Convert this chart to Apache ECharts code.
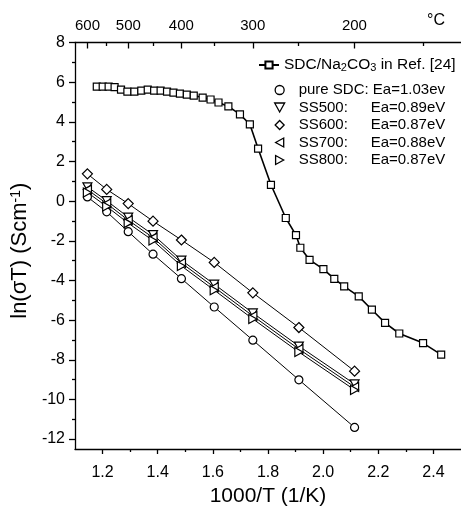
<!DOCTYPE html>
<html><head><meta charset="utf-8">
<script src="https://cdn.jsdelivr.net/npm/echarts@6/dist/echarts.min.js"></script>
<style>html,body{margin:0;padding:0;background:#fff}#c{width:461px;height:512px}</style>
</head><body><div id="c"></div>
<script>
// ---- data ----
const refX = [1.179,1.2005,1.222,1.2436,1.2669,1.290,1.3154,1.3405,1.3638,1.3871,1.4105,1.4338,1.4571,1.4805,1.5056,1.5307,1.563,1.5917,1.6205,1.6563,1.6983,1.7342,1.764,1.8107,1.8645,1.9015,1.9173,1.9507,2.0009,2.0404,2.0763,2.1291,2.1768,2.2246,2.2762,2.3624,2.4281];
const refY = [5.775,5.775,5.775,5.75,5.625,5.525,5.525,5.575,5.625,5.575,5.575,5.525,5.475,5.425,5.375,5.325,5.225,5.125,4.975,4.775,4.375,3.875,2.65,0.825,-0.85,-1.71,-2.35,-2.96,-3.425,-3.925,-4.3,-4.8,-5.475,-6.14,-6.675,-7.16,-7.74];
const xLin = [1.145,1.215,1.293,1.383,1.486,1.605,1.745,1.912,2.114];
const pureSDC = [0.21,-0.54,-1.54,-2.675,-3.91,-5.34,-7.01,-9.01,-11.41];
const ss500 = [0.72,0.02,-0.81,-1.69,-2.98,-4.19,-5.64,-7.31,-9.22];
const ss600 = [1.375,0.59,-0.125,-1.01,-1.96,-3.09,-4.625,-6.375,-8.575];
const ss700 = [0.58,-0.12,-0.96,-1.84,-3.12,-4.34,-5.79,-7.46,-9.37];
const ss800 = [0.44,-0.27,-1.11,-1.99,-3.27,-4.49,-5.94,-7.61,-9.52];
const xTicks = [1.2,1.4,1.6,1.8,2.0,2.2,2.4];
const xMinorTicks = [1.3,1.5,1.7,1.9,2.1,2.3];
const yTicks = [-12,-10,-8,-6,-4,-2,0,2,4,6,8];
const yMinorTicks = [-11,-9,-7,-5,-3,-1,1,3,5,7];
const tempMajor = [600,500,400,300,200];
const tempMinor = [550,450,350,250,150];
const seriesNames = ['SDC/Na2CO3 in Ref. [24]','pure SDC','SS500','SS600','SS700','SS800'];
const eaText = {'pure SDC':'Ea=1.03ev','SS500':'Ea=0.89eV','SS600':'Ea=0.87eV','SS700':'Ea=0.88eV','SS800':'Ea=0.87eV'};

// ---- helpers ----
const FONT = 'Liberation Sans, Arial, sans-serif';
const invT = t => 1000 / (t + 273.15);
const zip = (xs, ys) => xs.map((x, i) => [x, ys[i]]);
const X0 = 1.1, X1 = 2.5, Y0 = -12.5, Y1 = 8;

const symDown = 'path://M0,0L10,0L5,9Z';
const symLeft = 'path://M0,5L9,0L9,10Z';
const symRight = 'path://M9,5L0,0L0,10Z';
const symDiamond = 'path://M5,0L10,5L5,10L0,5Z';

function lineSeries(name, data, symbol, size, lw) {
  return {
    name, type: 'line', data, symbol, symbolSize: size, symbolKeepAspect: true,
    xAxisIndex: 0, yAxisIndex: 0,
    lineStyle: {color: '#000', width: lw},
    itemStyle: {color: '#fff', borderColor: '#000', borderWidth: 1.2},
    emphasis: {disabled: true}, silent: true, clip: false
  };
}

const baseAxis = {
  type: 'value', splitLine: {show: false},
  axisLine: {show: false, onZero: false}, axisLabel: {show: false},
  axisTick: {show: false}
};
const tickLine = {color: '#000', width: 1.3};

const option = {
  animation: false,
  textStyle: {fontFamily: FONT, color: '#000'},
  grid: {left: 75, top: 42.5, width: 390, height: 409, containLabel: false},
  xAxis: [
    Object.assign({}, baseAxis, {
      position: 'bottom', min: X0, max: X1,
      axisLine: {show: true, onZero: false, lineStyle: tickLine},
      axisTick: {show: true, inside: false, length: 5, customValues: xTicks, lineStyle: tickLine},
      axisLabel: {show: true, customValues: xTicks, margin: 16, fontSize: 16, color: '#000', fontFamily: FONT,
        formatter: v => v.toFixed(1)},
      name: '1000/T (1/K)', nameLocation: 'middle', nameGap: 37,
      nameTextStyle: {fontSize: 21, color: '#000', fontFamily: FONT}
    }),
    Object.assign({}, baseAxis, {
      position: 'bottom', min: X0, max: X1,
      axisLine: {show: false, onZero: false},
      axisTick: {show: true, inside: false, length: 3, customValues: xMinorTicks, lineStyle: tickLine}
    }),
    Object.assign({}, baseAxis, {
      position: 'top', min: X0, max: X1,
      axisLine: {show: true, onZero: false, lineStyle: tickLine},
      axisTick: {show: true, inside: true, length: 6, customValues: tempMajor.map(invT), lineStyle: tickLine},
      axisLabel: {show: true, customValues: tempMajor.map(invT), margin: 9, fontSize: 15, color: '#000', fontFamily: FONT,
        formatter: v => String(Math.round(1000 / v - 273.15))},
      name: '°C', nameLocation: 'end', nameGap: -34,
      nameTextStyle: {fontSize: 16, color: '#000', fontFamily: FONT, align: 'left', verticalAlign: 'bottom', padding: [0, 0, 14, 0]}
    }),
    Object.assign({}, baseAxis, {
      position: 'top', min: X0, max: X1,
      axisLine: {show: false, onZero: false},
      axisTick: {show: true, inside: true, length: 3.5, customValues: tempMinor.map(invT), lineStyle: tickLine}
    })
  ],
  yAxis: [
    Object.assign({}, baseAxis, {
      position: 'left', min: Y0, max: Y1,
      axisLine: {show: true, onZero: false, lineStyle: tickLine},
      axisTick: {show: true, inside: false, length: 6, customValues: yTicks, lineStyle: tickLine},
      axisLabel: {show: true, customValues: yTicks, margin: 10, fontSize: 16, color: '#000', fontFamily: FONT},
      name: 'ln(σT) (Scm{sup|-1})', nameLocation: 'middle', nameGap: 31,
      nameTextStyle: {fontSize: 22, color: '#000', fontFamily: FONT, padding: [0, 10, 0, 0],
        rich: {sup: {fontSize: 14, lineHeight: 12, verticalAlign: 'top', fontFamily: FONT, color: '#000'}}}
    }),
    Object.assign({}, baseAxis, {
      position: 'left', min: Y0, max: Y1,
      axisLine: {show: false, onZero: false},
      axisTick: {show: true, inside: false, length: 3, customValues: yMinorTicks, lineStyle: tickLine}
    })
  ],
  legend: [
    {
      data: [seriesNames[0]], left: 258, top: 57, padding: 0, itemWidth: 20, itemHeight: 9,
      selectedMode: false,
      formatter: () => 'SDC/Na{s|2}CO{s|3} in Ref. [24]',
      textStyle: {fontSize: 15.5, lineHeight: 16, color: '#000', fontFamily: FONT,
        rich: {s: {fontSize: 11, lineHeight: 8, verticalAlign: 'bottom', color: '#000', fontFamily: FONT}}}
    },
    {
      data: [
        {name: 'pure SDC', icon: 'circle'},
        {name: 'SS500', icon: symDown},
        {name: 'SS600', icon: symDiamond},
        {name: 'SS700', icon: symLeft},
        {name: 'SS800', icon: symRight}
      ],
      orient: 'vertical', left: 274, top: 82, padding: 0, itemWidth: 28, itemHeight: 9, itemGap: 1.5,
      selectedMode: false, symbolKeepAspect: true,
      itemStyle: {color: '#fff', borderColor: '#000', borderWidth: 1.3},
      formatter: n => n === 'pure SDC' ? 'pure SDC: ' + eaText[n] : '{a|' + n + ':}' + eaText[n],
      textStyle: {fontSize: 15, lineHeight: 16, color: '#000', fontFamily: FONT,
        rich: {a: {width: 72, fontSize: 15, color: '#000', fontFamily: FONT}}}
    }
  ],
  series: [
    lineSeries(seriesNames[0], zip(refX, refY), 'rect', 7, 1.6),
    lineSeries(seriesNames[1], zip(xLin, pureSDC), 'circle', 8, 1),
    lineSeries(seriesNames[2], zip(xLin, ss500), symDown, 9, 1),
    lineSeries(seriesNames[3], zip(xLin, ss600), symDiamond, 10, 1),
    lineSeries(seriesNames[4], zip(xLin, ss700), symLeft, 9, 1),
    lineSeries(seriesNames[5], zip(xLin, ss800), symRight, 9, 1)
  ]
};
const chart = echarts.init(document.getElementById('c'), null, {renderer: 'canvas'});
chart.setOption(option);
</script>
</body></html>
